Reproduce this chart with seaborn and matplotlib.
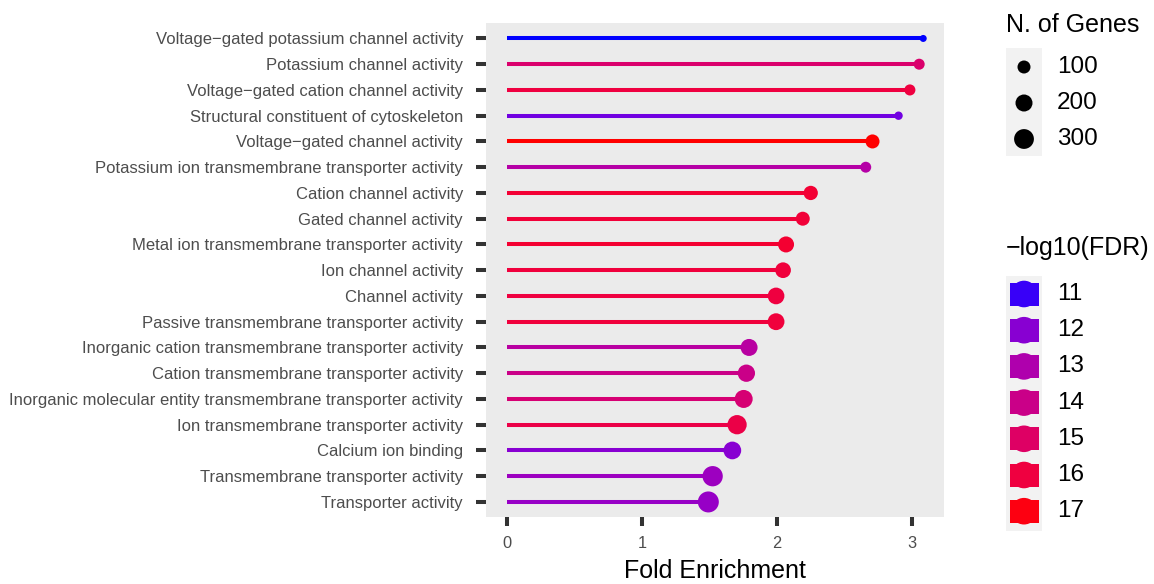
import numpy as np
import pandas as pd
import matplotlib
matplotlib.use("Agg")
import matplotlib.pyplot as plt
import seaborn as sns
from matplotlib.colors import ListedColormap, Normalize
from matplotlib.patches import Rectangle, Circle

# ---- data -----------------------------------------------------------------
terms = [
    "Voltage\u2212gated potassium channel activity",
    "Potassium channel activity",
    "Voltage\u2212gated cation channel activity",
    "Structural constituent of cytoskeleton",
    "Voltage\u2212gated channel activity",
    "Potassium ion transmembrane transporter activity",
    "Cation channel activity",
    "Gated channel activity",
    "Metal ion transmembrane transporter activity",
    "Ion channel activity",
    "Channel activity",
    "Passive transmembrane transporter activity",
    "Inorganic cation transmembrane transporter activity",
    "Cation transmembrane transporter activity",
    "Inorganic molecular entity transmembrane transporter activity",
    "Ion transmembrane transporter activity",
    "Calcium ion binding",
    "Transmembrane transporter activity",
    "Transporter activity",
]
fold_enrichment = [3.086, 3.056, 2.987, 2.903, 2.710, 2.660, 2.252, 2.193, 2.069,
                   2.047, 1.995, 1.995, 1.795, 1.775, 1.755, 1.706, 1.671, 1.525, 1.493]
n_genes = [44, 69, 70, 47, 121, 68, 127, 120, 171, 162, 191, 195,
           200, 210, 233, 280, 223, 320, 350]
neg_log10_fdr = [10.8, 14.8, 16.0, 11.6, 17.2, 13.2, 16.3, 16.2, 16.4, 16.1, 16.0, 16.1,
                 13.3, 14.0, 14.6, 15.8, 12.0, 12.5, 12.3]

size_breaks = [100, 200, 300]
fdr_breaks = [11, 12, 13, 14, 15, 16, 17]

df = pd.DataFrame({"term": terms, "fold": fold_enrichment,
                   "genes": n_genes, "fdr": neg_log10_fdr})

DPI = 100
W, H = 1154, 584


# ---- blue -> red gradient interpolated in CIE Lab ------------------------------
_M = np.array([[0.4124564, 0.3575761, 0.1804375],
               [0.2126729, 0.7151522, 0.0721750],
               [0.0193339, 0.1191920, 0.9503041]])
_WHITE = np.array([0.95047, 1.0, 1.08883])


def to_lab(rgb):
    rgb = np.asarray(rgb, float)
    lin = np.where(rgb <= 0.04045, rgb / 12.92, ((rgb + 0.055) / 1.055) ** 2.4)
    t = (_M @ lin) / _WHITE
    f = np.where(t > 216 / 24389, np.cbrt(t), (24389 / 27 * t + 16) / 116)
    return np.array([116 * f[1] - 16, 500 * (f[0] - f[1]), 200 * (f[1] - f[2])])


def from_lab(lab):
    L, a, b = lab
    fy = (L + 16) / 116
    fx = fy + a / 500
    fz = fy - b / 200
    f = np.array([fx, fy, fz])
    t = np.where(f ** 3 > 216 / 24389, f ** 3, (116 * f - 16) / (24389 / 27))
    lin = np.clip(np.linalg.inv(_M) @ (t * _WHITE), 0, 1)
    rgb = np.where(lin <= 0.0031308, 12.92 * lin, 1.055 * lin ** (1 / 2.4) - 0.055)
    return np.clip(rgb, 0, 1)


lab_lo, lab_hi = to_lab([0, 0, 1]), to_lab([1, 0, 0])
grad = [from_lab(lab_lo + (lab_hi - lab_lo) * u) for u in np.linspace(0, 1, 256)]
cmap = ListedColormap(grad)
norm = Normalize(min(neg_log10_fdr), max(neg_log10_fdr))

# ---- point size scale (diameter grows with sqrt of rescaled count) ------------
D_MIN, D_MAX = 7.0, 21.0
g_lo, g_hi = min(n_genes), max(n_genes)


def diam_px(n):
    return D_MIN + (D_MAX - D_MIN) * np.sqrt((n - g_lo) / (g_hi - g_lo))


def area_pt(n):
    return (diam_px(n) * 72 / DPI) ** 2


size_map = {n: area_pt(n) for n in df["genes"].unique()}

# ---- figure ----------------------------------------------------------------
plt.rcParams["font.family"] = ["Liberation Sans", "DejaVu Sans"]
fig = plt.figure(figsize=(W / DPI, H / DPI), dpi=DPI)
ax = fig.add_axes([486 / W, 1 - 517.4 / H, (944 - 486) / W, (517.4 - 23) / H])
ax.set_facecolor("#ebebeb")

seg_colors = [cmap(norm(v)) for v in df["fdr"]]
sns.scatterplot(data=df, x="fold", y="term", hue="fdr", palette=cmap, hue_norm=norm,
                size="genes", sizes=size_map, linewidth=0, alpha=1,
                legend=False, ax=ax, zorder=3)
ax.hlines(y=df["term"], xmin=0, xmax=df["fold"], colors=seg_colors,
          linewidth=2.9, zorder=2)

n = len(terms)
ax.set_ylim(n - 1 + 0.6, -0.6)
ax.set_xlim(-0.155, 3.24)
ax.set_xticks([0, 1, 2, 3])
ax.set_xticklabels(["0", "1", "2", "3"])
for s in ax.spines.values():
    s.set_visible(False)
ax.grid(False)
ax.tick_params(axis="y", length=7.5, width=2.9, color="#333333", pad=9,
               labelsize=12, labelcolor="#4d4d4d")
ax.tick_params(axis="x", length=6.5, width=2.9, color="#333333", pad=7,
               labelsize=11.8, labelcolor="#4d4d4d")
ax.set_ylabel("")
ax.set_xlabel("Fold Enrichment", fontsize=18, color="black", labelpad=6)

# ---- legends ---------------------------------------------------------------
lg = fig.add_axes([0, 0, 1, 1], zorder=5)
lg.set_xlim(0, W)
lg.set_ylim(H, 0)
lg.axis("off")

# size legend
lg.text(1006, 25, "N. of Genes", fontsize=18, va="center", ha="left")
lg.add_patch(Rectangle((1006, 48), 36, 108, facecolor="#f2f2f2", edgecolor="none"))
for i, b in enumerate(size_breaks):
    yc = 67 + 36 * i
    lg.add_patch(Circle((1024, yc), diam_px(b) / 2, facecolor="black", edgecolor="none"))
    lg.text(1057, yc, str(b), fontsize=17.5, va="center", ha="left")

# colour legend
lg.text(1006, 248, "\u2212log10(FDR)", fontsize=18, va="center", ha="left")
lg.add_patch(Rectangle((1006, 276), 36, 255, facecolor="#f2f2f2", edgecolor="none"))
for i, b in enumerate(fdr_breaks):
    yc = 294 + 36.2 * i
    col = cmap(norm(b))
    lg.add_patch(Rectangle((1009.5, yc - 11.5), 29, 23, facecolor=col, edgecolor="none"))
    lg.add_patch(Circle((1024, yc), 13.3, facecolor=col, edgecolor="none"))
    lg.text(1057, yc, str(b), fontsize=17.5, va="center", ha="left")

fig.savefig("out.png", dpi=DPI)
